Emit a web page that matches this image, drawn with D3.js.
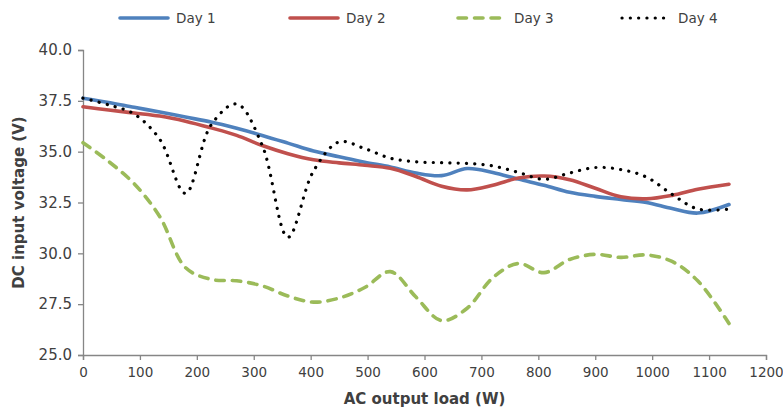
<!DOCTYPE html>
<html>
<head>
<meta charset="utf-8">
<script src="https://cdn.jsdelivr.net/npm/d3@7"></script>
<style>
  html, body { margin: 0; padding: 0; background: #fff; }
  svg { display: block; }
  text { font-family: "DejaVu Sans", Verdana, sans-serif; fill: #404040; }
</style>
</head>
<body>
<svg id="chart" width="783" height="409"></svg>
<script>
// ---- data ----
const loads = [0, 45, 90, 135, 180, 225, 270, 315, 360, 405, 450, 495, 540, 585, 630, 675, 720, 765, 810, 855, 900, 945, 990, 1035, 1080, 1135];
const day1 = [37.63, 37.42, 37.18, 36.95, 36.70, 36.46, 36.15, 35.80, 35.42, 35.03, 34.75, 34.48, 34.25, 33.95, 33.82, 34.17, 33.98, 33.65, 33.35, 33.00, 32.80, 32.65, 32.50, 32.20, 31.98, 32.40];
const day2 = [37.21, 37.05, 36.90, 36.75, 36.50, 36.17, 35.80, 35.30, 34.90, 34.60, 34.45, 34.33, 34.18, 33.78, 33.30, 33.12, 33.35, 33.70, 33.80, 33.62, 33.20, 32.78, 32.68, 32.85, 33.15, 33.40];
const day3 = [35.44, 34.52, 33.42, 31.80, 29.30, 28.72, 28.65, 28.40, 27.90, 27.60, 27.80, 28.32, 29.10, 27.85, 26.69, 27.30, 28.80, 29.50, 29.05, 29.70, 29.95, 29.80, 29.92, 29.60, 28.65, 26.55];
const day4 = [37.63, 37.30, 36.85, 35.60, 32.95, 36.31, 37.35, 35.30, 30.79, 34.05, 35.48, 35.15, 34.68, 34.50, 34.46, 34.42, 34.30, 33.98, 33.64, 33.95, 34.22, 34.12, 33.75, 32.90, 32.18, 32.17];
const seriesNames = ["Day 1", "Day 2", "Day 3", "Day 4"];
const xTicks = [0, 100, 200, 300, 400, 500, 600, 700, 800, 900, 1000, 1100, 1200];
const yTicks = [25.0, 27.5, 30.0, 32.5, 35.0, 37.5, 40.0];
const xTitle = "AC output load (W)";
const yTitle = "DC input voltage (V)";

(function () {
// ---- layout ----
const svg = d3.select("#chart");
const pL = 83, pR = 766, pT = 50, pB = 355;
const x = d3.scaleLinear().domain([0, 1200]).range([pL, pR]);
const y = d3.scaleLinear().domain([25, 40]).range([pB, pT]);
const axisColor = "#868686";

const styles = [
  { color: "#4F81BD", width: 3.6, dash: null, cap: "round" },
  { color: "#C0504D", width: 3.6, dash: null, cap: "round" },
  { color: "#9BBB59", width: 3.6, dash: "8.5 8", cap: "round" },
  { color: "#000000", width: 3.2, dash: "0.1 8.2", cap: "round" }
];
const allSeries = [day1, day2, day3, day4];

// axes
const yAxis = svg.append("g").attr("transform", `translate(${pL},0)`)
  .call(d3.axisLeft(y).tickValues(yTicks).tickFormat(d3.format(".1f")).tickSize(5).tickPadding(6));
const xAxis = svg.append("g").attr("transform", `translate(0,${pB})`)
  .call(d3.axisBottom(x).tickValues(xTicks).tickFormat(d3.format("d")).tickSize(5).tickPadding(7));
[xAxis, yAxis].forEach(g => {
  g.select(".domain").attr("stroke", axisColor).attr("stroke-width", 1.3);
  g.selectAll(".tick line").attr("stroke", axisColor).attr("stroke-width", 1.3);
  g.selectAll(".tick text").attr("fill", "#404040").style("font-family", '"DejaVu Sans", Verdana, sans-serif');
});
yAxis.selectAll(".tick text").style("font-size", "15px");
xAxis.selectAll(".tick text").style("font-size", "13.5px");

// lines
const line = d3.line()
  .x((d, i) => x(loads[i]))
  .y(d => y(d))
  .curve(d3.curveCatmullRom.alpha(0.5));

allSeries.forEach((vals, k) => {
  const s = styles[k];
  svg.append("path")
    .datum(vals)
    .attr("d", line)
    .attr("fill", "none")
    .attr("stroke", s.color)
    .attr("stroke-width", s.width)
    .attr("stroke-linecap", s.cap)
    .attr("stroke-linejoin", "round")
    .attr("stroke-dasharray", s.dash);
});

// axis titles
svg.append("text")
  .attr("x", (pL + pR) / 2).attr("y", 404)
  .attr("text-anchor", "middle")
  .style("font-size", "15px").style("font-weight", "bold")
  .text(xTitle);
svg.append("text")
  .attr("transform", `translate(24,${(pT + pB) / 2}) rotate(-90)`)
  .attr("text-anchor", "middle")
  .style("font-size", "15px").style("font-weight", "bold")
  .text(yTitle);

// legend
const legendX = [118, 288, 456, 620];
const legend = svg.append("g");
seriesNames.forEach((name, k) => {
  const s = styles[k];
  legend.append("line")
    .attr("x1", legendX[k] + 2).attr("x2", legendX[k] + 50)
    .attr("y1", 18).attr("y2", 18)
    .attr("stroke", s.color)
    .attr("stroke-width", s.width)
    .attr("stroke-linecap", s.cap)
    .attr("stroke-dasharray", s.dash);
  legend.append("text")
    .attr("x", legendX[k] + 58).attr("y", 23)
    .style("font-size", "13.5px")
    .text(name);
});
})();
</script>
</body>
</html>
